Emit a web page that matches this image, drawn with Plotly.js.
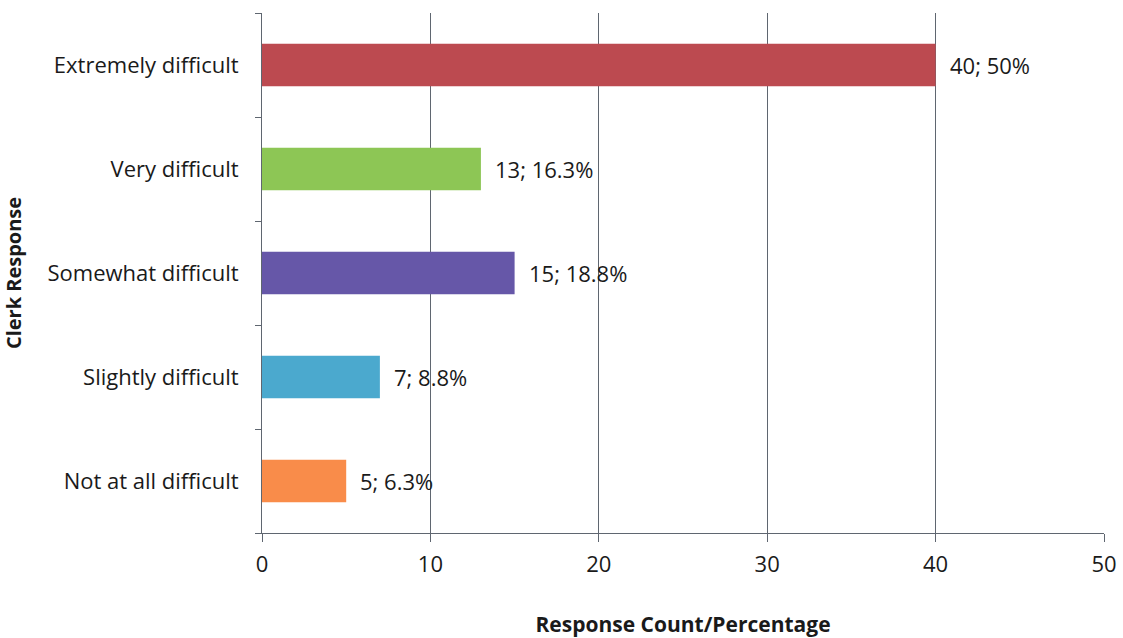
<!DOCTYPE html>
<html>
<head>
<meta charset="utf-8">
<script src="https://cdn.plot.ly/plotly-3.0.1.min.js"></script>
<style>
  html, body { margin: 0; padding: 0; background: #fff; }
  #chart { width: 1123px; height: 638px; }
</style>
</head>
<body>
<div id="chart"></div>
<script>
// Survey answers, listed bottom to top as they appear on the axis
const categories = [
  "Not at all difficult",
  "Slightly difficult",
  "Somewhat difficult",
  "Very difficult",
  "Extremely difficult"
];
const counts = [5, 7, 15, 13, 40];
const percents = ["6.3%", "8.8%", "18.8%", "16.3%", "50%"];
const barColors = ["#F98C4A", "#4BA9CE", "#6657A8", "#8DC655", "#BC4A50"];
const xTicks = [0, 10, 20, 30, 40, 50];

const FONT = "'Open Sans', 'Noto Sans', sans-serif";
const INK = "#1a1a1a";
const AXIS = "#5f6670";

const trace = {
  type: "bar",
  orientation: "h",
  y: categories,
  x: counts,
  marker: { color: barColors, line: { width: 0 } },
  width: 0.41,
  hoverinfo: "skip"
};

// value labels sit a little to the right of each bar end
const valueLabels = counts.map((c, i) => ({
  x: c,
  y: categories[i],
  xref: "x",
  yref: "y",
  text: c + "; " + percents[i],
  showarrow: false,
  xanchor: "left",
  yanchor: "middle",
  xshift: 12,
  font: { family: FONT, size: 22, color: INK }
}));

const layout = {
  width: 1123,
  height: 638,
  margin: { l: 262, r: 19, t: 13, b: 105 },
  paper_bgcolor: "#fff",
  plot_bgcolor: "#fff",
  showlegend: false,
  font: { family: FONT, size: 22, color: INK },
  annotations: valueLabels,
  xaxis: {
    range: [0, 50],
    tickmode: "array",
    tickvals: xTicks,
    ticktext: xTicks.map(String),
    ticks: "outside",
    ticklen: 8,
    tickcolor: AXIS,
    ticklabelstandoff: 4,
    tickfont: { family: FONT, size: 22, color: INK },
    showgrid: true,
    gridcolor: AXIS,
    gridwidth: 1,
    zeroline: false,
    showline: true,
    linecolor: AXIS,
    linewidth: 1,
    title: {
      text: "<b>Response Count/Percentage</b>",
      font: { family: FONT, size: 21, color: INK },
      standoff: 40
    },
    automargin: false,
    fixedrange: true
  },
  yaxis: {
    type: "category",
    categoryorder: "array",
    categoryarray: categories,
    tickson: "boundaries",
    ticks: "outside",
    ticklen: 6,
    tickcolor: AXIS,
    ticklabelstandoff: 18,
    showgrid: false,
    showline: true,
    linecolor: AXIS,
    linewidth: 1,
    tickfont: { family: FONT, size: 22, color: INK },
    title: {
      text: "<b>Clerk Response</b>",
      font: { family: FONT, size: 20, color: INK },
      standoff: 23
    },
    automargin: false,
    fixedrange: true
  },
  bargap: 0.59
};

Plotly.newPlot("chart", [trace], layout, { displayModeBar: false, staticPlot: true });
</script>
</body>
</html>
